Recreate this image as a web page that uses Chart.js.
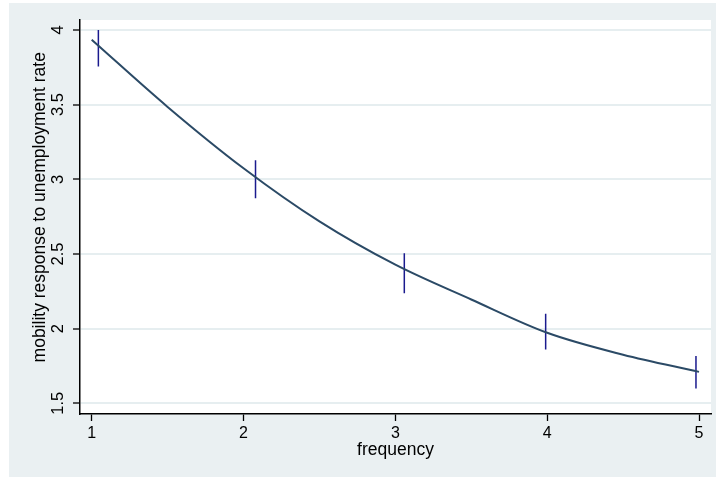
<!DOCTYPE html>
<html>
<head>
<meta charset="utf-8">
<script src="https://cdn.jsdelivr.net/npm/chart.js@4.4.0/dist/chart.umd.min.js"></script>
<style>
  html, body { margin: 0; padding: 0; background: #fff; }
  canvas { display: block; }
</style>
</head>
<body>
<canvas id="grafik" width="716" height="477"></canvas>
<script>
// -------- DATA --------
// fitted curve
const kurvaX = [1, 1.5, 2, 2.5, 3, 3.5, 4, 4.5, 5];
const kurvaY = [3.935, 3.485, 3.074, 2.718, 2.428, 2.195, 1.972, 1.825, 1.71];

// confidence bars
const barX = [1.044, 2.079, 3.059, 3.99, 4.98];
const barLo = [3.755, 2.873, 2.237, 1.86, 1.598];
const barHi = [4.0, 3.127, 2.505, 2.1, 1.817];

// axis ticks
const xTicks = [1, 2, 3, 4, 5];
const yTicks = [1.5, 2, 2.5, 3, 3.5, 4];

// -------- build datasets --------
const kurva = kurvaX.map((x, i) => ({ x: x, y: kurvaY[i] }));
const bars = [];
barX.forEach((x, i) => {
    bars.push({ x: x, y: barLo[i] });
    bars.push({ x: x, y: barHi[i] });
    bars.push({ x: x, y: null });
});

const huruf = "'Liberation Sans', Arial, sans-serif";

// background: light stata panel + white plot region
const latar = {
    id: "latar",
    beforeDraw(chart) {
        const ctx = chart.ctx;
        const a = chart.chartArea;
        ctx.save();
        ctx.fillStyle = "#ffffff";
        ctx.fillRect(0, 0, chart.width, chart.height);
        ctx.fillStyle = "#eaf0f2";
        ctx.fillRect(9, 3, chart.width - 9, chart.height - 3);
        ctx.fillStyle = "#ffffff";
        ctx.fillRect(a.left, a.top, a.right - a.left, a.bottom - a.top);
        ctx.restore();
    }
};

new Chart(document.getElementById("grafik"), {
    type: "line",
    data: {
        datasets: [
            {
                data: kurva,
                borderColor: "#2b4a66",
                borderWidth: 2,
                pointRadius: 0,
                cubicInterpolationMode: "monotone",
                fill: false
            },
            {
                data: bars,
                borderColor: "#1a1a8e",
                borderWidth: 1.5,
                pointRadius: 0,
                spanGaps: false,
                fill: false
            }
        ]
    },
    options: {
        responsive: false,
        animation: false,
        devicePixelRatio: 1,
        layout: { padding: { top: 20, right: 5, left: 0, bottom: 0 } },
        plugins: {
            legend: { display: false },
            tooltip: { enabled: false }
        },
        scales: {
            x: {
                type: "linear",
                min: 0.923,
                max: 5.079,
                afterBuildTicks: s => { s.ticks = xTicks.map(v => ({ value: v })); },
                afterFit: s => { s.height = 63; },
                ticks: {
                    color: "#000",
                    font: { family: huruf, size: 16 },
                    padding: 3,
                    maxRotation: 0,
                    callback: v => String(v)
                },
                grid: {
                    drawOnChartArea: false,
                    tickLength: 7,
                    tickColor: "#000",
                    tickWidth: 1.3
                },
                border: { display: true, color: "#000", width: 1.5 },
                title: {
                    display: true,
                    text: "frequency",
                    color: "#000",
                    font: { family: huruf, size: 17.5 },
                    padding: { top: 0, bottom: 16.5 }
                }
            },
            y: {
                type: "linear",
                min: 1.428,
                max: 4.067,
                afterBuildTicks: s => { s.ticks = yTicks.map(v => ({ value: v })); },
                afterFit: s => { s.width = 80; },
                ticks: {
                    color: "#000",
                    font: { family: huruf, size: 16.5 },
                    padding: 3,
                    minRotation: 90,
                    maxRotation: 90,
                    crossAlign: "center",
                    callback: v => String(v)
                },
                grid: {
                    color: "#e6eef0",
                    lineWidth: 2,
                    tickLength: 7,
                    tickColor: "#000",
                    tickWidth: 1.3
                },
                border: { display: true, color: "#000", width: 1.5 },
                title: {
                    display: true,
                    // leading spaces nudge the title up like the original
                    text: "    mobility response to unemployment rate",
                    color: "#000",
                    font: { family: huruf, size: 17.5 },
                    padding: { top: 29.5, bottom: 0 }
                }
            }
        }
    },
    plugins: [latar]
});
</script>
</body>
</html>
